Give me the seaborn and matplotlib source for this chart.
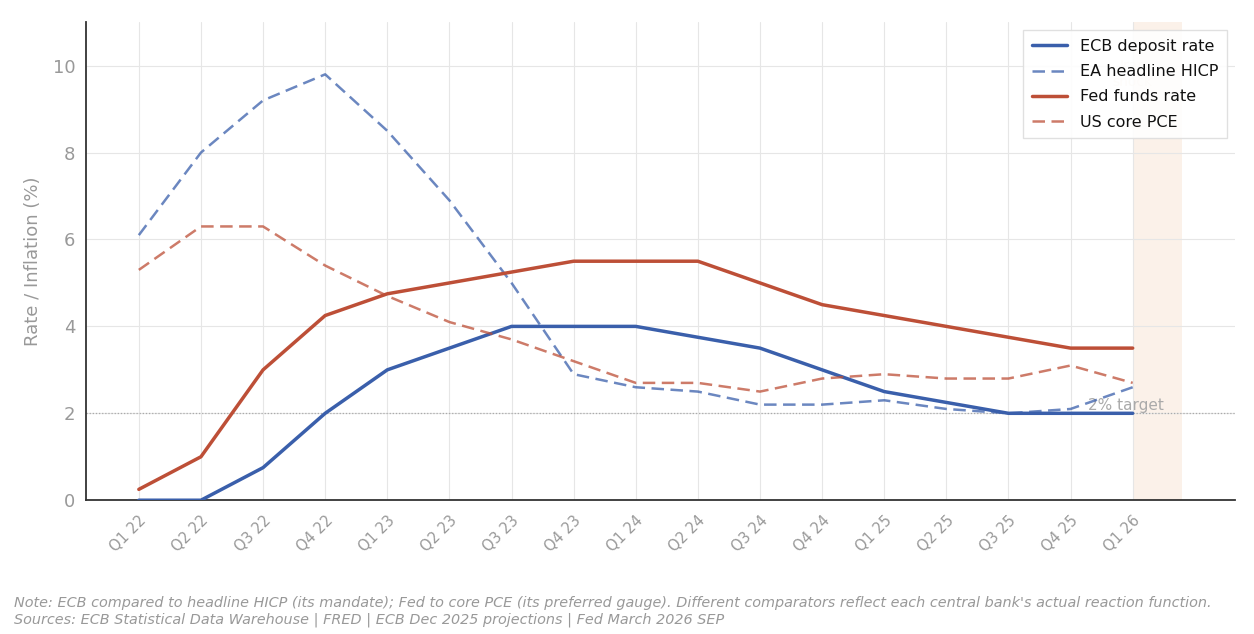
import numpy as np
import pandas as pd
import seaborn as sns
import matplotlib
matplotlib.use("Agg")
import matplotlib.pyplot as plt

quarters = ["Q1 22", "Q2 22", "Q3 22", "Q4 22", "Q1 23", "Q2 23", "Q3 23", "Q4 23",
            "Q1 24", "Q2 24", "Q3 24", "Q4 24", "Q1 25", "Q2 25", "Q3 25", "Q4 25", "Q1 26"]
ecb_deposit = [0.0, 0.0, 0.75, 2.0, 3.0, 3.5, 4.0, 4.0, 4.0, 3.75, 3.5, 3.0, 2.5, 2.25, 2.0, 2.0, 2.0]
ea_hicp = [6.1, 8.0, 9.2, 9.8, 8.5, 6.9, 5.0, 2.9, 2.6, 2.5, 2.2, 2.2, 2.3, 2.1, 2.0, 2.1, 2.6]
fed_funds = [0.25, 1.0, 3.0, 4.25, 4.75, 5.0, 5.25, 5.5, 5.5, 5.5, 5.0, 4.5, 4.25, 4.0, 3.75, 3.5, 3.5]
us_core_pce = [5.3, 6.3, 6.3, 5.4, 4.7, 4.1, 3.7, 3.2, 2.7, 2.7, 2.5, 2.8, 2.9, 2.8, 2.8, 3.1, 2.7]

sns.set_style("white")
plt.rcParams['font.family'] = ['DejaVu Sans']

fig = plt.figure(figsize=(12.54, 6.34), dpi=100)
ax = fig.add_axes([0.0686, 0.211, 0.9164, 0.754])

x = np.arange(len(quarters))
blue = "#3a5fab"
red = "#bd4f37"

series = [
    ("ECB deposit rate", ecb_deposit, blue, "-", 2.5, 1.0),
    ("EA headline HICP", ea_hicp, blue, "--", 1.8, 0.75),
    ("Fed funds rate", fed_funds, red, "-", 2.5, 1.0),
    ("US core PCE", us_core_pce, red, "--", 1.8, 0.75),
]

# shaded region & faint label (sits behind the legend, as in the reference)
ax.axvspan(16, 16.8, color="#f4d9c0", alpha=0.35, lw=0, zorder=0)
ax.text(16.0, 9.8, "Iran\nshock", ha="center", va="center", fontsize=10,
        color="#e8c9a8", alpha=0.5, zorder=1)

# target line
ax.axhline(2, color="#aaaaaa", lw=0.9, ls=(0, (1, 1.5)), zorder=1)
ax.text(16.5, 2.0, "2% target", ha="right", va="bottom", fontsize=11, color="#aaaaaa", zorder=3)

for label, vals, col, ls, lw, a in series:
    df = pd.DataFrame({"x": x, "y": vals})
    line_ax = sns.lineplot(data=df, x="x", y="y", ax=ax, color=col, linewidth=lw,
                           alpha=a, label=label, zorder=4)
    if ls == "--":
        line_ax.lines[-1].set_dashes((5, 2.6))

ax.set_xlim(-0.85, 17.65)
ax.set_ylim(0, 11)
ax.set_xticks(x)
ax.set_xticklabels(quarters, rotation=45, ha="right", rotation_mode="anchor",
                   fontsize=10.5, color="#999999")
ax.set_yticks([0, 2, 4, 6, 8, 10])
ax.tick_params(axis="y", labelsize=13, labelcolor="#999999", length=4, color="#555555")
ax.tick_params(axis="x", length=4, color="#555555", pad=5)
ax.set_xlabel("")
ax.set_ylabel("Rate / Inflation (%)", fontsize=13, color="#999999", labelpad=8)

ax.grid(True, color="#e6e6e6", lw=0.8)
ax.set_axisbelow(True)
for s in ["top", "right"]:
    ax.spines[s].set_visible(False)
for s in ["left", "bottom"]:
    ax.spines[s].set_color("#333333")
    ax.spines[s].set_linewidth(1.3)

leg = ax.legend(loc="upper right", fontsize=11.5, frameon=True, fancybox=False,
                borderpad=0.55, handlelength=2.2, labelspacing=0.64)
leg.get_frame().set_edgecolor("#dddddd")
leg.get_frame().set_alpha(0.9)
leg.set_zorder(10)
for t in leg.get_texts():
    t.set_color("#111111")
for h in leg.get_lines():
    if h.get_linestyle() not in ("-", "solid"):
        h.set_dashes((5, 2.6))

fig.text(0.011, 0.049, "Note: ECB compared to headline HICP (its mandate); Fed to core PCE (its preferred gauge). "
         "Different comparators reflect each central bank's actual reaction function.",
         fontsize=10.4, style="italic", color="#999999", va="center")
fig.text(0.011, 0.022, "Sources: ECB Statistical Data Warehouse | FRED | ECB Dec 2025 projections | Fed March 2026 SEP",
         fontsize=10.4, style="italic", color="#999999", va="center")

fig.savefig("out.png", dpi=100)
